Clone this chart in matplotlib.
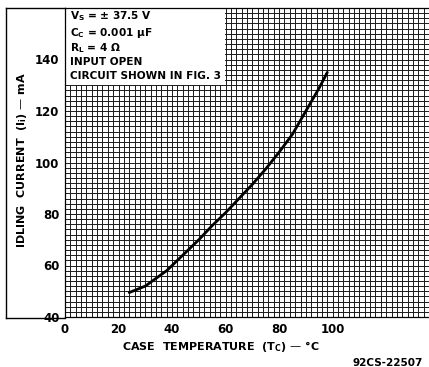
import matplotlib
matplotlib.use("Agg")
import matplotlib.pyplot as plt
from matplotlib.patches import Rectangle
from matplotlib.lines import Line2D
import numpy as np

# Data
case_temp = [24, 30, 38, 45, 50, 55, 60, 65, 70, 75, 80, 85, 90, 95, 98]
idling_current = [49.5, 52, 58, 65, 70, 75.5, 80.5, 86, 91.5, 97.5, 104, 111, 120, 129, 135]

x_ticks = [0, 20, 40, 60, 80, 100]
y_ticks = [40, 60, 80, 100, 120, 140]

notes = ["$\\mathbf{V_S}$ = ± 37.5 V",
         "$\\mathbf{C_C}$ = 0.001 μF",
         "$\\mathbf{R_L}$ = 4 Ω",
         "INPUT OPEN",
         "CIRCUIT SHOWN IN FIG. 3"]

plt.rcParams['font.family'] = ['DejaVu Sans']
plt.rcParams['font.weight'] = 'bold'
plt.rcParams['mathtext.default'] = 'bf'

W, H = 429, 367
fig = plt.figure(figsize=(W / 100, H / 100), dpi=100)
fig.patch.set_facecolor('white')

ax = fig.add_axes([65 / W, 1 - 317 / H, (W - 65) / W, (317 - 8) / H])
ax.set_xlim(0, 136)
ax.set_ylim(40, 160)

ax.set_xticks(x_ticks)
ax.set_yticks(y_ticks)
ax.set_xticks(np.arange(0, 137, 2), minor=True)
ax.set_yticks(np.arange(40, 161, 2), minor=True)
ax.tick_params(which='both', length=0)
ax.tick_params(axis='x', pad=4, labelsize=8.5)
ax.tick_params(axis='y', pad=4, labelsize=8.5)
ax.set_axisbelow(True)
ax.grid(which='both', color='#1a1a1a', linewidth=0.7)
for s in ax.spines.values():
    s.set_linewidth(0.9)
ax.spines['right'].set_visible(False)

# White notes box in upper-left
ax.add_patch(Rectangle((0, 130.1), 59.8, 30, facecolor='white', edgecolor='none', zorder=1.5))
ys = [156.9, 150.3, 144.5, 139.0, 133.6]
for t, yv in zip(notes, ys):
    ax.text(2, yv, t, fontsize=7.6, fontweight='bold', va='center', ha='left', zorder=3)

ax.plot(case_temp, idling_current, color='black', linewidth=2.0, solid_capstyle='round', zorder=3)

fig.text(221 / W, 1 - 346 / H, "CASE  TEMPERATURE  (T$_\\mathbf{C}$) — °C",
         fontsize=8, fontweight='bold', ha='center', va='center')
fig.text(22 / W, 1 - 160 / H, "IDLING  CURRENT  (I$_\\mathbf{i}$) — mA", rotation=90,
         fontsize=8, fontweight='bold', ha='center', va='center')

fig.text(388 / W, 1 - 363 / H, "92CS-22507", fontsize=7.5, fontweight='bold', ha='center', va='center')

# Outer frame lines around the label area
fig.add_artist(Line2D([6 / W, 6 / W], [1 - 8 / H, 1 - 318 / H], color='black', lw=1.0, transform=fig.transFigure))
fig.add_artist(Line2D([6 / W, 65 / W], [1 - 318 / H, 1 - 318 / H], color='black', lw=1.0, transform=fig.transFigure))
fig.add_artist(Line2D([6 / W, 65 / W], [1 - 8 / H, 1 - 8 / H], color='black', lw=1.0, transform=fig.transFigure))

fig.savefig("out.png", dpi=100, facecolor='white')
